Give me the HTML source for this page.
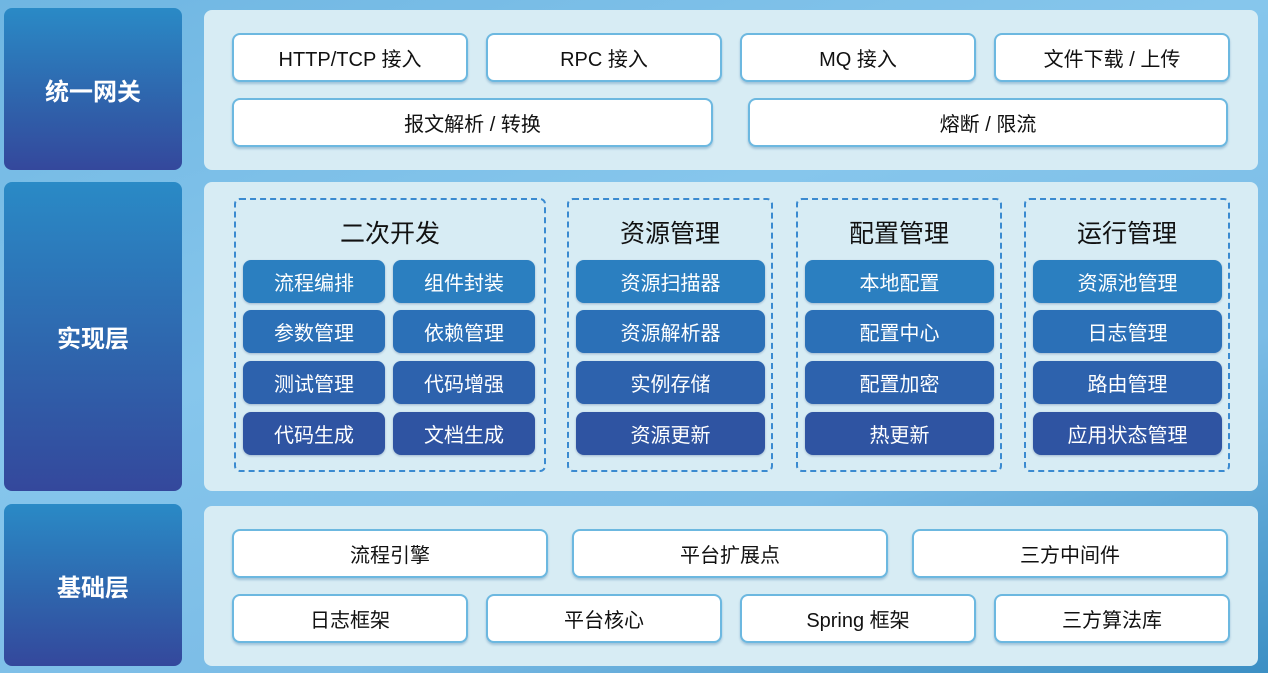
<!DOCTYPE html>
<html><head><meta charset="utf-8"><style>
*{margin:0;padding:0;box-sizing:border-box}
body{width:1268px;height:673px;overflow:hidden;position:relative;font-family:"Liberation Sans","Noto Sans CJK SC",sans-serif;background:linear-gradient(160deg,#6fb6e2 0%,#86c6ec 40%,#7bbce6 70%,#3c8fc4 100%)}
.a{position:absolute;display:flex;align-items:center;justify-content:center}
.lab{border-radius:8px;background:linear-gradient(180deg,#2a8ac6 0%,#2f62ab 60%,#34489c 100%);color:#fff;font-size:24px;font-weight:bold}
.pan{background:#d7ecf4;border-radius:8px}
.w{background:#fff;border:2px solid #6cb8e0;border-radius:8px;font-size:20px;color:#111;box-shadow:0 2px 2px rgba(60,120,170,.35)}
.g{border:2px dashed #3a8ad0;border-radius:6px}
.t{font-size:25px;color:#111}
.b{border-radius:8px;color:#fff;font-size:20px;box-shadow:0 1px 2px rgba(30,60,120,.3)}
.r1{background:#2b7fc0}.r2{background:#2b70b7}.r3{background:#2d62ad}.r4{background:#2f54a2}
</style></head><body>
<div class="a lab" style="left:4px;top:8px;width:178px;height:162px">统一网关</div>
<div class="a lab" style="left:4px;top:182px;width:178px;height:309px">实现层</div>
<div class="a lab" style="left:4px;top:504px;width:178px;height:162px">基础层</div>
<div class="a pan" style="left:204px;top:10px;width:1054px;height:160px"></div>
<div class="a pan" style="left:204px;top:182px;width:1054px;height:309px"></div>
<div class="a pan" style="left:204px;top:506px;width:1054px;height:160px"></div>

<div class="a w" style="left:232px;top:33px;width:236px;height:49px">HTTP/TCP 接入</div>
<div class="a w" style="left:486px;top:33px;width:236px;height:49px">RPC 接入</div>
<div class="a w" style="left:740px;top:33px;width:236px;height:49px">MQ 接入</div>
<div class="a w" style="left:994px;top:33px;width:236px;height:49px">文件下载 / 上传</div>
<div class="a w" style="left:232px;top:98px;width:481px;height:49px">报文解析 / 转换</div>
<div class="a w" style="left:748px;top:98px;width:480px;height:49px">熔断 / 限流</div>

<div class="a g" style="left:234px;top:198px;width:312px;height:274px"></div>
<div class="a g" style="left:567px;top:198px;width:206px;height:274px"></div>
<div class="a g" style="left:796px;top:198px;width:206px;height:274px"></div>
<div class="a g" style="left:1024px;top:198px;width:206px;height:274px"></div>
<div class="a t" style="left:234px;top:214px;width:312px;height:36px">二次开发</div>
<div class="a t" style="left:567px;top:214px;width:206px;height:36px">资源管理</div>
<div class="a t" style="left:796px;top:214px;width:206px;height:36px">配置管理</div>
<div class="a t" style="left:1024px;top:214px;width:206px;height:36px">运行管理</div>

<div class="a b r1" style="left:243px;top:260px;width:142px;height:43px">流程编排</div>
<div class="a b r1" style="left:393px;top:260px;width:142px;height:43px">组件封装</div>
<div class="a b r2" style="left:243px;top:310px;width:142px;height:43px">参数管理</div>
<div class="a b r2" style="left:393px;top:310px;width:142px;height:43px">依赖管理</div>
<div class="a b r3" style="left:243px;top:361px;width:142px;height:43px">测试管理</div>
<div class="a b r3" style="left:393px;top:361px;width:142px;height:43px">代码增强</div>
<div class="a b r4" style="left:243px;top:412px;width:142px;height:43px">代码生成</div>
<div class="a b r4" style="left:393px;top:412px;width:142px;height:43px">文档生成</div>

<div class="a b r1" style="left:576px;top:260px;width:189px;height:43px">资源扫描器</div>
<div class="a b r2" style="left:576px;top:310px;width:189px;height:43px">资源解析器</div>
<div class="a b r3" style="left:576px;top:361px;width:189px;height:43px">实例存储</div>
<div class="a b r4" style="left:576px;top:412px;width:189px;height:43px">资源更新</div>

<div class="a b r1" style="left:805px;top:260px;width:189px;height:43px">本地配置</div>
<div class="a b r2" style="left:805px;top:310px;width:189px;height:43px">配置中心</div>
<div class="a b r3" style="left:805px;top:361px;width:189px;height:43px">配置加密</div>
<div class="a b r4" style="left:805px;top:412px;width:189px;height:43px">热更新</div>

<div class="a b r1" style="left:1033px;top:260px;width:189px;height:43px">资源池管理</div>
<div class="a b r2" style="left:1033px;top:310px;width:189px;height:43px">日志管理</div>
<div class="a b r3" style="left:1033px;top:361px;width:189px;height:43px">路由管理</div>
<div class="a b r4" style="left:1033px;top:412px;width:189px;height:43px">应用状态管理</div>

<div class="a w" style="left:232px;top:529px;width:316px;height:49px">流程引擎</div>
<div class="a w" style="left:572px;top:529px;width:316px;height:49px">平台扩展点</div>
<div class="a w" style="left:912px;top:529px;width:316px;height:49px">三方中间件</div>
<div class="a w" style="left:232px;top:594px;width:236px;height:49px">日志框架</div>
<div class="a w" style="left:486px;top:594px;width:236px;height:49px">平台核心</div>
<div class="a w" style="left:740px;top:594px;width:236px;height:49px">Spring 框架</div>
<div class="a w" style="left:994px;top:594px;width:236px;height:49px">三方算法库</div>
</body></html>
